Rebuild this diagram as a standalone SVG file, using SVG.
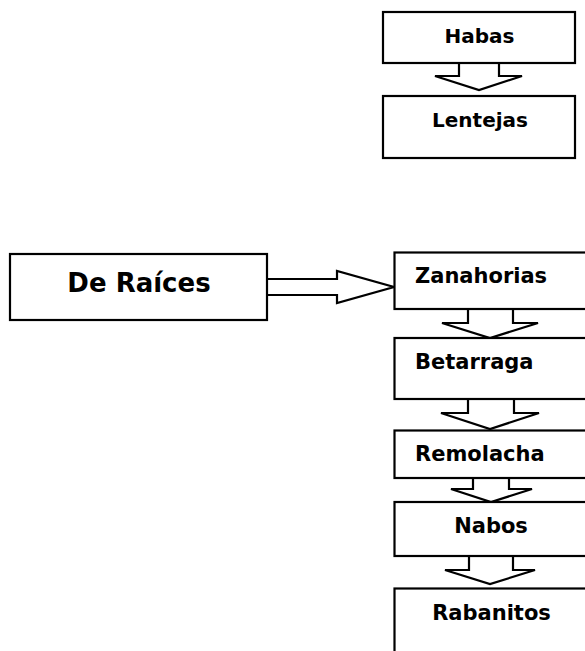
<svg xmlns="http://www.w3.org/2000/svg" width="585" height="651" viewBox="0 0 585 651">
<style>
.box{fill:#fff;stroke:#000;stroke-width:2.2}
.arr{fill:#fff;stroke:#000;stroke-width:2.2;stroke-linejoin:miter}
.t{font-family:"DejaVu Sans",Verdana,sans-serif;font-weight:bold;font-size:21px;fill:#000}
.tc{text-anchor:middle}
.sm{font-size:20px}
.big{font-size:26px}
</style>
<rect width="585" height="651" fill="#fff"/>
<g id="connectors">
<polyline class="arr" points="459,63 459,76 435,76 479,90 522,76 499,76 499,63"/>
<polyline class="arr" points="267,279 337,279 337,271 394,287 337,303 337,295 267,295"/>
<polyline class="arr" points="468,309 468,323 442,323 490,338 538,323 513,323 513,309"/>
<polyline class="arr" points="468,399 468,413 441,413 490,429 539,413 514,413 514,399"/>
<polyline class="arr" points="473,478 473,489 451,489 491,502 532,489 509,489 509,478"/>
<polyline class="arr" points="469,556 469,570 445,570 490,584 535,570 513,570 513,556"/>
</g>
<g id="habas">
<rect class="box" x="383" y="12" width="192" height="51"/>
<text class="t tc sm" x="479.5" y="42.5">Habas</text>
</g>
<g id="lentejas">
<rect class="box" x="383" y="96" width="192" height="62"/>
<text class="t tc sm" x="480" y="127">Lentejas</text>
</g>
<g id="de-raices">
<rect class="box" x="10" y="254" width="257" height="66"/>
<text class="t tc big" x="139" y="291.5">De Raíces</text>
</g>
<g id="zanahorias">
<rect class="box" x="394.5" y="252.5" width="210" height="56.5"/>
<text class="t" x="415" y="283">Zanahorias</text>
</g>
<g id="betarraga">
<rect class="box" x="394.5" y="338" width="210" height="61"/>
<text class="t" x="415" y="369">Betarraga</text>
</g>
<g id="remolacha">
<rect class="box" x="394.5" y="430.5" width="210" height="47.5"/>
<text class="t" x="415" y="461">Remolacha</text>
</g>
<g id="nabos">
<rect class="box" x="394.5" y="502" width="210" height="54"/>
<text class="t tc" x="491" y="533">Nabos</text>
</g>
<g id="rabanitos">
<rect class="box" x="394.5" y="588.5" width="210" height="80"/>
<text class="t tc" x="491.5" y="620">Rabanitos</text>
</g>
</svg>
